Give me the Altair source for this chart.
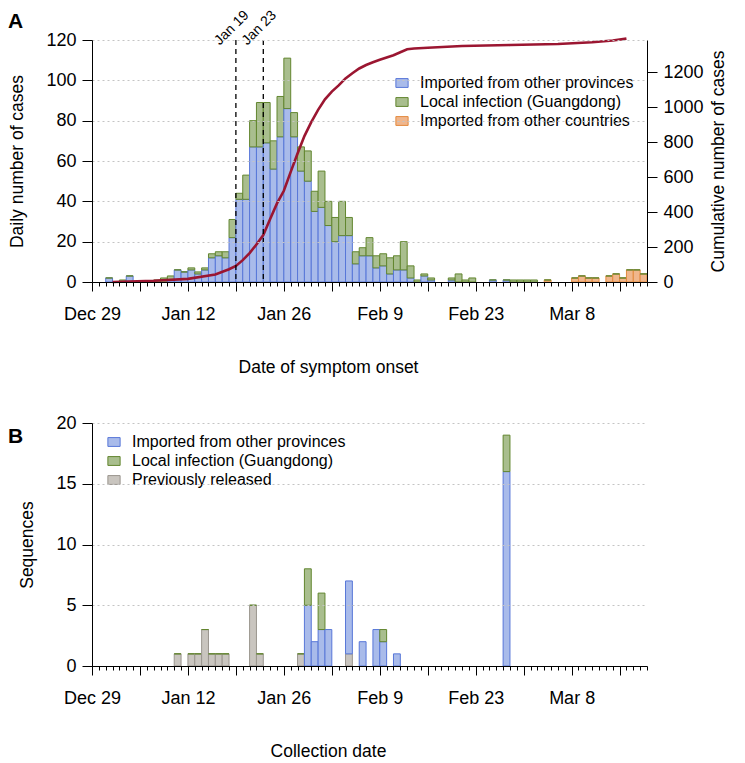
import altair as alt
import pandas as pd

FONT = "Liberation Sans"

CAT_PROV = "Imported from other provinces"
CAT_LOCAL = "Local infection (Guangdong)"
CAT_CTRY = "Imported from other countries"
CAT_PREV = "Previously released"

# ---------------- Panel A: daily cases by date of symptom onset ----------------
a_dates = [
    "2019-12-31", "2020-01-02", "2020-01-03", "2020-01-07", "2020-01-08", "2020-01-09",
    "2020-01-10", "2020-01-11", "2020-01-12", "2020-01-13", "2020-01-14", "2020-01-15",
    "2020-01-16", "2020-01-17", "2020-01-18", "2020-01-19", "2020-01-20", "2020-01-21",
    "2020-01-22", "2020-01-23", "2020-01-24", "2020-01-25", "2020-01-26", "2020-01-27",
    "2020-01-28", "2020-01-29", "2020-01-30", "2020-01-31", "2020-02-01", "2020-02-02",
    "2020-02-03", "2020-02-04", "2020-02-05", "2020-02-06", "2020-02-07", "2020-02-08",
    "2020-02-09", "2020-02-10", "2020-02-11", "2020-02-12", "2020-02-13", "2020-02-14",
    "2020-02-15", "2020-02-16", "2020-02-19", "2020-02-20", "2020-02-21", "2020-02-22",
    "2020-02-25", "2020-02-27", "2020-02-28", "2020-02-29", "2020-03-01", "2020-03-02",
    "2020-03-04", "2020-03-08", "2020-03-09", "2020-03-10", "2020-03-11", "2020-03-13",
    "2020-03-14", "2020-03-15", "2020-03-16", "2020-03-17", "2020-03-18",
]
a_prov = [2, 0, 3, 0, 0, 1, 6, 5, 6, 4, 6, 12, 13, 12, 22, 41, 41, 67, 67, 69, 56, 72, 86, 72,
          55, 50, 35, 37, 28, 20, 23, 23, 9, 13, 13, 7, 8, 4, 6, 6, 2, 0, 3, 1, 1, 0, 0, 0,
          1, 1, 0, 0, 0, 0, 0, 0, 0, 0, 0, 0, 0, 0, 0, 0, 0]
a_local = [0, 1, 0, 1, 2, 2, 0, 0, 1, 1, 1, 2, 2, 3, 9, 3, 12, 13, 22, 20, 14, 20, 25, 12,
           12, 15, 10, 18, 12, 12, 17, 9, 6, 4, 9, 6, 6, 8, 7, 14, 6, 1, 1, 1, 1, 4, 1, 2,
           0, 0, 1, 1, 1, 1, 0, 0, 0, 0, 0, 0, 0, 0, 0, 0, 0]
a_ctry = [0, 0, 0, 0, 0, 0, 0, 0, 0, 0, 0, 0, 0, 0, 0, 0, 0, 0, 0, 0, 0, 0, 0, 0,
          0, 0, 0, 0, 0, 0, 0, 0, 0, 0, 0, 0, 0, 0, 0, 0, 0, 0, 0, 0, 0, 0, 0, 0,
          0, 0, 0, 0, 0, 0, 1, 2, 3, 2, 2, 3, 4, 2, 6, 6, 4]

# cumulative number of cases (red curve, right axis)
cum_dates = [
    "2020-01-01", "2020-01-07", "2020-01-12", "2020-01-16", "2020-01-18", "2020-01-19",
    "2020-01-20", "2020-01-21", "2020-01-22", "2020-01-23", "2020-01-24", "2020-01-25",
    "2020-01-26", "2020-01-27", "2020-01-28", "2020-01-29", "2020-01-30", "2020-01-31",
    "2020-02-01", "2020-02-02", "2020-02-03", "2020-02-04", "2020-02-05", "2020-02-06",
    "2020-02-07", "2020-02-08", "2020-02-09", "2020-02-10", "2020-02-11", "2020-02-12",
    "2020-02-13", "2020-02-14", "2020-02-16", "2020-02-21", "2020-02-28", "2020-03-06",
    "2020-03-11", "2020-03-14", "2020-03-16",
]
cum_total = [0, 7, 18, 43, 73, 92, 125, 165, 215, 269, 360, 450, 522, 630, 735, 835, 915, 985,
             1045, 1090, 1125, 1165, 1195, 1222, 1242, 1258, 1272, 1285, 1298, 1315, 1332,
             1336, 1341, 1351, 1356, 1362, 1372, 1382, 1393]

event_dates = ["2020-01-19", "2020-01-23"]
event_labels = ["Jan 19", "Jan 23"]

# ---------------- Panel B: sequences by collection date ----------------
b_dates = [
    "2020-01-10", "2020-01-12", "2020-01-13", "2020-01-14", "2020-01-15", "2020-01-16",
    "2020-01-17", "2020-01-21", "2020-01-22", "2020-01-28", "2020-01-29", "2020-01-30",
    "2020-01-31", "2020-02-01", "2020-02-04", "2020-02-06", "2020-02-08", "2020-02-09",
    "2020-02-11", "2020-02-27",
]
b_prev = [1, 1, 1, 3, 1, 1, 1, 5, 1, 1, 0, 0, 0, 0, 1, 0, 0, 0, 0, 0]
b_prov = [0, 0, 0, 0, 0, 0, 0, 0, 0, 0, 5, 2, 3, 3, 6, 2, 3, 2, 1, 16]
b_local = [0, 0, 0, 0, 0, 0, 0, 0, 0, 0, 3, 0, 3, 0, 0, 0, 0, 1, 0, 3]

# ---------------- axes ----------------
x_start, x_end = "2019-12-29", "2020-03-19"
major_ticks = [d.strftime("%Y-%m-%d") for d in pd.date_range(x_start, "2020-03-15", freq="7D")]
minor_ticks = [d.strftime("%Y-%m-%d") for d in pd.date_range(x_start, x_end, freq="D")]
labelled_ticks = ["Dec 29", "Jan 12", "Jan 26", "Feb 9", "Feb 23", "Mar 8"]
a_y_ticks = [0, 20, 40, 60, 80, 100, 120]
a_cum_ticks = [0, 200, 400, 600, 800, 1000, 1200]
b_y_ticks = [0, 5, 10, 15, 20]

W, HA, HB = 555, 242, 243

FILL = {CAT_PROV: "#a9bbea", CAT_LOCAL: "#a9be8e", CAT_CTRY: "#f0b68c", CAT_PREV: "#c9c5bf"}
EDGE = {CAT_PROV: "#5877d8", CAT_LOCAL: "#62862f", CAT_CTRY: "#e38a3e", CAT_PREV: "#9a958e"}


def dt(s):
    t = pd.Timestamp(s)
    return alt.DateTime(year=t.year, month=t.month, date=t.day, utc=True)


def next_day(s):
    return (pd.Timestamp(s) + pd.Timedelta(days=1)).strftime("%Y-%m-%d")


xscale = alt.Scale(type="utc", domain=[dt(x_start), dt(x_end)])
label_list = "[" + ",".join("'%s'" % s for s in labelled_ticks) + "]"
label_expr = ("indexof(%s, utcFormat(datum.value, '%%b %%-d')) >= 0 ? "
              "utcFormat(datum.value, '%%b %%-d') : ''") % label_list


def major_axis(title):
    return alt.Axis(values=[dt(s) for s in major_ticks], labelExpr=label_expr, tickSize=9,
                    labelFontSize=18, labelPadding=14, labelFlush=False, labelOverlap=False,
                    title=title, titleFontSize=17.5, titlePadding=35, titleX=236,
                    titleAlign="center", grid=False, orient="bottom", zindex=1)


minor_axis = alt.Axis(values=[dt(s) for s in minor_ticks], labels=False, tickSize=4,
                      domain=False, title=None, grid=False, orient="bottom", zindex=1)

SYMBOL = "M-1,-0.72H1V0.72H-1Z"


def legend(x, y):
    return alt.Legend(title=None, orient="none", legendX=x, legendY=y, symbolType=SYMBOL,
                      symbolSize=150, symbolStrokeWidth=1, labelFontSize=16, labelFont=FONT,
                      labelOffset=10, rowPadding=3, padding=0, labelLimit=400)


def y_axis(values, title, fmt=None, orient="left", grid=True, angle=None, tpad=19,
           baseline=None):
    kw = dict(values=values, tickSize=10, labelPadding=6, labelFontSize=18, title=title,
              titleFontSize=17.5, titlePadding=tpad, grid=grid, orient=orient, zindex=1)
    if grid:
        kw.update(gridDash=[2, 3], gridColor="#c4c4c4")
    if fmt:
        kw["format"] = fmt
    if angle is not None:
        kw["titleAngle"] = angle
    if baseline:
        kw["titleBaseline"] = baseline
    return alt.Axis(**kw)


# ---------- panel A ----------
rows = []
for d, b, g, o in zip(a_dates, a_prov, a_local, a_ctry):
    e = next_day(d)
    if b > 0:
        rows.append({"date": d, "end": e, "cat": CAT_PROV, "n": b, "ord": 0})
    if o > 0:
        rows.append({"date": d, "end": e, "cat": CAT_CTRY, "n": o, "ord": 1})
    rows.append({"date": d, "end": e, "cat": CAT_LOCAL, "n": g, "ord": 2})
dfa = pd.DataFrame(rows)
dom_a = [CAT_PROV, CAT_LOCAL, CAT_CTRY]

bars_a = alt.Chart(dfa).transform_stack(
    stack="n", as_=["y0", "y1"], groupby=["date"],
    sort=[alt.SortField("ord", order="ascending")],
).mark_bar(strokeWidth=1).encode(
    x=alt.X("date:T", scale=xscale, axis=major_axis("Date of symptom onset")),
    x2="end:T",
    y=alt.Y("y0:Q", scale=alt.Scale(domain=[0, 120], nice=False),
            axis=y_axis(a_y_ticks, "Daily number of cases")),
    y2="y1:Q",
    fill=alt.Fill("cat:N", scale=alt.Scale(domain=dom_a, range=[FILL[c] for c in dom_a]),
                  legend=legend(302, 35)),
    stroke=alt.Stroke("cat:N", scale=alt.Scale(domain=dom_a, range=[EDGE[c] for c in dom_a]),
                      legend=legend(302, 35)),
)

dfc = pd.DataFrame({"date": cum_dates, "cum": cum_total})
line_a = alt.Chart(dfc).mark_line(color="#9b1631", strokeWidth=2.6).encode(
    x=alt.X("date:T", scale=xscale, axis=None),
    y=alt.Y("cum:Q", scale=alt.Scale(domain=[0, 1385], nice=False),
            axis=y_axis(a_cum_ticks, "Cumulative number of cases", fmt="d", orient="right",
                        grid=False, angle=270, tpad=6, baseline="top")),
)

dfm = pd.DataFrame({"date": minor_ticks})
minor_a = alt.Chart(dfm).mark_rule(strokeOpacity=0).encode(
    x=alt.X("date:T", scale=xscale, axis=minor_axis))

dfe = pd.DataFrame({"date": event_dates, "label": event_labels})
rules_a = alt.Chart(dfe).mark_rule(color="black", strokeDash=[5, 4], strokeWidth=1.3).encode(
    x=alt.X("date:T", scale=xscale, axis=None), y=alt.value(0), y2=alt.value(HA))
texts_a = alt.Chart(dfe).mark_text(angle=315, align="center", baseline="middle", fontSize=14,
                                   font=FONT, xOffset=-4).encode(
    x=alt.X("date:T", scale=xscale, axis=None), y=alt.value(-12), text="label:N")

tag_a = alt.Chart(pd.DataFrame({"t": ["A"]})).mark_text(
    align="left", baseline="middle", fontSize=21, fontWeight="bold", font=FONT).encode(
    x=alt.value(-84), y=alt.value(-18), text="t:N")

panel_a = alt.layer(bars_a, line_a, minor_a, rules_a, texts_a, tag_a).resolve_scale(
    y="independent").resolve_axis(x="independent").properties(width=W, height=HA)

# ---------- panel B ----------
rows = []
for d, p, b, g in zip(b_dates, b_prev, b_prov, b_local):
    e = next_day(d)
    if p > 0:
        rows.append({"date": d, "end": e, "cat": CAT_PREV, "n": p, "ord": 0})
    if b > 0:
        rows.append({"date": d, "end": e, "cat": CAT_PROV, "n": b, "ord": 1})
    if g > 0 or b == 0:
        rows.append({"date": d, "end": e, "cat": CAT_LOCAL, "n": g, "ord": 2})
dfb = pd.DataFrame(rows)
dom_b = [CAT_PROV, CAT_LOCAL, CAT_PREV]

bars_b = alt.Chart(dfb).transform_stack(
    stack="n", as_=["y0", "y1"], groupby=["date"],
    sort=[alt.SortField("ord", order="ascending")],
).mark_bar(strokeWidth=1).encode(
    x=alt.X("date:T", scale=xscale, axis=major_axis("Collection date")),
    x2="end:T",
    y=alt.Y("y0:Q", scale=alt.Scale(domain=[0, 20], nice=False),
            axis=y_axis(b_y_ticks, "Sequences")),
    y2="y1:Q",
    fill=alt.Fill("cat:N", scale=alt.Scale(domain=dom_b, range=[FILL[c] for c in dom_b]),
                  legend=legend(14, 11)),
    stroke=alt.Stroke("cat:N", scale=alt.Scale(domain=dom_b, range=[EDGE[c] for c in dom_b]),
                      legend=legend(14, 11)),
)
minor_b = alt.Chart(dfm).mark_rule(strokeOpacity=0).encode(
    x=alt.X("date:T", scale=xscale, axis=minor_axis))
tag_b = alt.Chart(pd.DataFrame({"t": ["B"]})).mark_text(
    align="left", baseline="middle", fontSize=21, fontWeight="bold", font=FONT).encode(
    x=alt.value(-84), y=alt.value(14), text="t:N")

panel_b = alt.layer(bars_b, minor_b, tag_b).resolve_axis(x="independent").properties(
    width=W, height=HB)

chart = alt.vconcat(panel_a, panel_b, spacing=38).resolve_scale(
    fill="independent", stroke="independent"
).properties(
    padding={"left": 0, "top": 0, "right": 5, "bottom": 5}
).configure_view(stroke=None).configure_axis(
    labelFont=FONT, titleFont=FONT, labelColor="black", titleColor="black",
    titleFontWeight="normal", domainColor="black", tickColor="black", domainWidth=1,
    tickWidth=1,
).configure_text(font=FONT)

chart.save("out.html", embed_options={"renderer": "svg", "actions": False})
